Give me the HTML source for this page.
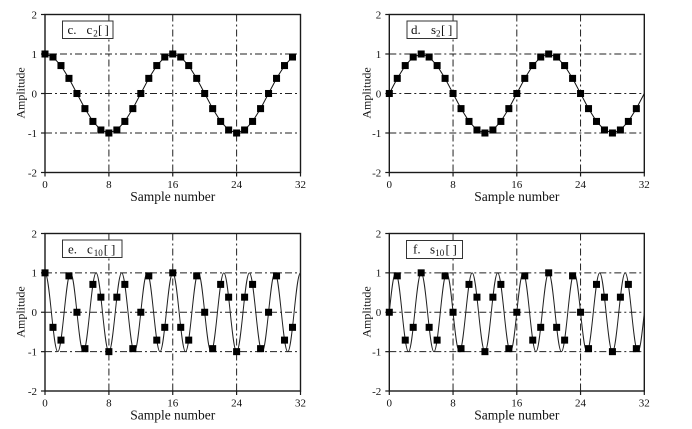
<!DOCTYPE html>
<html><head><meta charset="utf-8"><style>
html,body{margin:0;padding:0;background:#fff;}
svg{display:block;}
text{font-family:"Liberation Serif",serif;fill:#111;}
.tk{font-size:11px;}
.ax{font-size:13.5px;}
.am{font-size:12px;}
.bx{font-size:13px;}
.sb{font-size:9px;}
.g{stroke:#222;stroke-width:1;stroke-dasharray:7,3,2,3;fill:none;}
.fr{fill:none;stroke:#1a1a1a;stroke-width:1.4;}
.t{stroke:#1a1a1a;stroke-width:1.2;}
.ln{fill:none;stroke:#111;stroke-width:1;vector-effect:non-scaling-stroke;}
.cv{fill:none;stroke:#222;stroke-width:1;vector-effect:non-scaling-stroke;}
.lb{fill:#fff;stroke:#333;stroke-width:1;}
</style></head><body>
<svg width="692" height="429" viewBox="0 0 692 429" xmlns="http://www.w3.org/2000/svg">
<defs><rect id="m" x="-0.44" y="-0.089" width="0.88" height="0.178" fill="#000"/></defs>

<!-- ============ TOP LEFT ============ -->
<g>
<line class="g" x1="45" y1="54" x2="300.5" y2="54"/>
<line class="g" x1="45" y1="93.5" x2="300.5" y2="93.5"/>
<line class="g" x1="45" y1="133" x2="300.5" y2="133"/>
<line class="g" x1="108.9" y1="14.5" x2="108.9" y2="172.5"/>
<line class="g" x1="172.75" y1="14.5" x2="172.75" y2="172.5"/>
<line class="g" x1="236.6" y1="14.5" x2="236.6" y2="172.5"/>
<rect class="fr" x="45" y="14.5" width="255.5" height="158"/>
<line class="t" x1="41" y1="14.5" x2="45" y2="14.5"/><line class="t" x1="41" y1="54" x2="45" y2="54"/><line class="t" x1="41" y1="93.5" x2="45" y2="93.5"/><line class="t" x1="41" y1="133" x2="45" y2="133"/><line class="t" x1="41" y1="172.5" x2="45" y2="172.5"/>
<line class="t" x1="45" y1="172.5" x2="45" y2="176.5"/><line class="t" x1="108.9" y1="172.5" x2="108.9" y2="176.5"/><line class="t" x1="172.75" y1="172.5" x2="172.75" y2="176.5"/><line class="t" x1="236.6" y1="172.5" x2="236.6" y2="176.5"/><line class="t" x1="300.5" y1="172.5" x2="300.5" y2="176.5"/>
<text class="tk" x="37" y="18.3" text-anchor="end">2</text>
<text class="tk" x="37" y="57.8" text-anchor="end">1</text>
<text class="tk" x="37" y="97.3" text-anchor="end">0</text>
<text class="tk" x="37" y="136.8" text-anchor="end">-1</text>
<text class="tk" x="37" y="176.3" text-anchor="end">-2</text>
<text class="tk" x="45" y="188" text-anchor="middle">0</text>
<text class="tk" x="108.9" y="188" text-anchor="middle">8</text>
<text class="tk" x="172.75" y="188" text-anchor="middle">16</text>
<text class="tk" x="236.6" y="188" text-anchor="middle">24</text>
<text class="tk" x="300.5" y="188" text-anchor="middle">32</text>
<text class="ax" x="172.75" y="201" text-anchor="middle">Sample number</text>
<text class="am" transform="translate(24.5,93) rotate(-90)" text-anchor="middle">Amplitude</text>
<g transform="translate(45,93.5) scale(7.984,-39.5)">
<polyline class="ln" points="0,1 1,.9239 2,.7071 3,.3827 4,0 5,-.3827 6,-.7071 7,-.9239 8,-1 9,-.9239 10,-.7071 11,-.3827 12,0 13,.3827 14,.7071 15,.9239 16,1 17,.9239 18,.7071 19,.3827 20,0 21,-.3827 22,-.7071 23,-.9239 24,-1 25,-.9239 26,-.7071 27,-.3827 28,0 29,.3827 30,.7071 31,.9239"/>
<use href="#m" x="0" y="1"/><use href="#m" x="1" y=".9239"/><use href="#m" x="2" y=".7071"/><use href="#m" x="3" y=".3827"/><use href="#m" x="4" y="0"/><use href="#m" x="5" y="-.3827"/><use href="#m" x="6" y="-.7071"/><use href="#m" x="7" y="-.9239"/><use href="#m" x="8" y="-1"/><use href="#m" x="9" y="-.9239"/><use href="#m" x="10" y="-.7071"/><use href="#m" x="11" y="-.3827"/><use href="#m" x="12" y="0"/><use href="#m" x="13" y=".3827"/><use href="#m" x="14" y=".7071"/><use href="#m" x="15" y=".9239"/>
<use href="#m" x="16" y="1"/><use href="#m" x="17" y=".9239"/><use href="#m" x="18" y=".7071"/><use href="#m" x="19" y=".3827"/><use href="#m" x="20" y="0"/><use href="#m" x="21" y="-.3827"/><use href="#m" x="22" y="-.7071"/><use href="#m" x="23" y="-.9239"/><use href="#m" x="24" y="-1"/><use href="#m" x="25" y="-.9239"/><use href="#m" x="26" y="-.7071"/><use href="#m" x="27" y="-.3827"/><use href="#m" x="28" y="0"/><use href="#m" x="29" y=".3827"/><use href="#m" x="30" y=".7071"/><use href="#m" x="31" y=".9239"/>
</g>
<rect class="lb" x="62.5" y="21" width="50.5" height="17.5"/>
<text class="bx" y="34"><tspan x="67.5">c.</tspan><tspan x="86.5">c</tspan><tspan class="sb" x="93.2" y="36.5">2</tspan><tspan x="98" y="34">[</tspan><tspan x="104.5">]</tspan></text>
</g>

<!-- ============ TOP RIGHT ============ -->
<g>
<line class="g" x1="389.3" y1="54" x2="644.3" y2="54"/>
<line class="g" x1="389.3" y1="93.5" x2="644.3" y2="93.5"/>
<line class="g" x1="389.3" y1="133" x2="644.3" y2="133"/>
<line class="g" x1="453.05" y1="14.5" x2="453.05" y2="172.5"/>
<line class="g" x1="516.8" y1="14.5" x2="516.8" y2="172.5"/>
<line class="g" x1="580.55" y1="14.5" x2="580.55" y2="172.5"/>
<rect class="fr" x="389.3" y="14.5" width="255" height="158"/>
<line class="t" x1="385.3" y1="14.5" x2="389.3" y2="14.5"/><line class="t" x1="385.3" y1="54" x2="389.3" y2="54"/><line class="t" x1="385.3" y1="93.5" x2="389.3" y2="93.5"/><line class="t" x1="385.3" y1="133" x2="389.3" y2="133"/><line class="t" x1="385.3" y1="172.5" x2="389.3" y2="172.5"/>
<line class="t" x1="389.3" y1="172.5" x2="389.3" y2="176.5"/><line class="t" x1="453.05" y1="172.5" x2="453.05" y2="176.5"/><line class="t" x1="516.8" y1="172.5" x2="516.8" y2="176.5"/><line class="t" x1="580.55" y1="172.5" x2="580.55" y2="176.5"/><line class="t" x1="644.3" y1="172.5" x2="644.3" y2="176.5"/>
<text class="tk" x="381.3" y="18.3" text-anchor="end">2</text>
<text class="tk" x="381.3" y="57.8" text-anchor="end">1</text>
<text class="tk" x="381.3" y="97.3" text-anchor="end">0</text>
<text class="tk" x="381.3" y="136.8" text-anchor="end">-1</text>
<text class="tk" x="381.3" y="176.3" text-anchor="end">-2</text>
<text class="tk" x="389.3" y="188" text-anchor="middle">0</text>
<text class="tk" x="453.05" y="188" text-anchor="middle">8</text>
<text class="tk" x="516.8" y="188" text-anchor="middle">16</text>
<text class="tk" x="580.55" y="188" text-anchor="middle">24</text>
<text class="tk" x="644.3" y="188" text-anchor="middle">32</text>
<text class="ax" x="516.8" y="201" text-anchor="middle">Sample number</text>
<text class="am" transform="translate(370.5,93) rotate(-90)" text-anchor="middle">Amplitude</text>
<g transform="translate(389.3,93.5) scale(7.969,-39.5)">
<polyline class="ln" points="0,0 1,.3827 2,.7071 3,.9239 4,1 5,.9239 6,.7071 7,.3827 8,0 9,-.3827 10,-.7071 11,-.9239 12,-1 13,-.9239 14,-.7071 15,-.3827 16,0 17,.3827 18,.7071 19,.9239 20,1 21,.9239 22,.7071 23,.3827 24,0 25,-.3827 26,-.7071 27,-.9239 28,-1 29,-.9239 30,-.7071 31,-.3827 32,0"/>
<use href="#m" x="0" y="0"/><use href="#m" x="1" y=".3827"/><use href="#m" x="2" y=".7071"/><use href="#m" x="3" y=".9239"/><use href="#m" x="4" y="1"/><use href="#m" x="5" y=".9239"/><use href="#m" x="6" y=".7071"/><use href="#m" x="7" y=".3827"/><use href="#m" x="8" y="0"/><use href="#m" x="9" y="-.3827"/><use href="#m" x="10" y="-.7071"/><use href="#m" x="11" y="-.9239"/><use href="#m" x="12" y="-1"/><use href="#m" x="13" y="-.9239"/><use href="#m" x="14" y="-.7071"/><use href="#m" x="15" y="-.3827"/>
<use href="#m" x="16" y="0"/><use href="#m" x="17" y=".3827"/><use href="#m" x="18" y=".7071"/><use href="#m" x="19" y=".9239"/><use href="#m" x="20" y="1"/><use href="#m" x="21" y=".9239"/><use href="#m" x="22" y=".7071"/><use href="#m" x="23" y=".3827"/><use href="#m" x="24" y="0"/><use href="#m" x="25" y="-.3827"/><use href="#m" x="26" y="-.7071"/><use href="#m" x="27" y="-.9239"/><use href="#m" x="28" y="-1"/><use href="#m" x="29" y="-.9239"/><use href="#m" x="30" y="-.7071"/><use href="#m" x="31" y="-.3827"/>
</g>
<rect class="lb" x="407" y="21" width="50" height="17.5"/>
<text class="bx" y="34"><tspan x="411">d.</tspan><tspan x="431">s</tspan><tspan class="sb" x="436" y="36.5">2</tspan><tspan x="441" y="34">[</tspan><tspan x="448">]</tspan></text>
</g>

<!-- ============ BOTTOM LEFT ============ -->
<g>
<line class="g" x1="45" y1="272.85" x2="300.5" y2="272.85"/>
<line class="g" x1="45" y1="312.25" x2="300.5" y2="312.25"/>
<line class="g" x1="45" y1="351.65" x2="300.5" y2="351.65"/>
<line class="g" x1="108.9" y1="233.5" x2="108.9" y2="391"/>
<line class="g" x1="172.75" y1="233.5" x2="172.75" y2="391"/>
<line class="g" x1="236.6" y1="233.5" x2="236.6" y2="391"/>
<rect class="fr" x="45" y="233.5" width="255.5" height="157.5"/>
<line class="t" x1="41" y1="233.5" x2="45" y2="233.5"/><line class="t" x1="41" y1="272.85" x2="45" y2="272.85"/><line class="t" x1="41" y1="312.25" x2="45" y2="312.25"/><line class="t" x1="41" y1="351.65" x2="45" y2="351.65"/><line class="t" x1="41" y1="391" x2="45" y2="391"/>
<line class="t" x1="45" y1="391" x2="45" y2="395"/><line class="t" x1="108.9" y1="391" x2="108.9" y2="395"/><line class="t" x1="172.75" y1="391" x2="172.75" y2="395"/><line class="t" x1="236.6" y1="391" x2="236.6" y2="395"/><line class="t" x1="300.5" y1="391" x2="300.5" y2="395"/>
<text class="tk" x="37" y="237.3" text-anchor="end">2</text>
<text class="tk" x="37" y="276.65" text-anchor="end">1</text>
<text class="tk" x="37" y="316.05" text-anchor="end">0</text>
<text class="tk" x="37" y="355.45" text-anchor="end">-1</text>
<text class="tk" x="37" y="394.8" text-anchor="end">-2</text>
<text class="tk" x="45" y="406.5" text-anchor="middle">0</text>
<text class="tk" x="108.9" y="406.5" text-anchor="middle">8</text>
<text class="tk" x="172.75" y="406.5" text-anchor="middle">16</text>
<text class="tk" x="236.6" y="406.5" text-anchor="middle">24</text>
<text class="tk" x="300.5" y="406.5" text-anchor="middle">32</text>
<text class="ax" x="172.75" y="419.5" text-anchor="middle">Sample number</text>
<text class="am" transform="translate(24.5,312) rotate(-90)" text-anchor="middle">Amplitude</text>
<g transform="translate(45,312.25) scale(7.984,-39.4)">
<path class="cv" d="M0 1
c.2895 0 .5391 -.4877 .8 -1 c.2609 -.5123 .5105 -1 .8 -1 c.2895 0 .5391 .4877 .8 1 c.2609 .5123 .5105 1 .8 1
c.2895 0 .5391 -.4877 .8 -1 c.2609 -.5123 .5105 -1 .8 -1 c.2895 0 .5391 .4877 .8 1 c.2609 .5123 .5105 1 .8 1
c.2895 0 .5391 -.4877 .8 -1 c.2609 -.5123 .5105 -1 .8 -1 c.2895 0 .5391 .4877 .8 1 c.2609 .5123 .5105 1 .8 1
c.2895 0 .5391 -.4877 .8 -1 c.2609 -.5123 .5105 -1 .8 -1 c.2895 0 .5391 .4877 .8 1 c.2609 .5123 .5105 1 .8 1
c.2895 0 .5391 -.4877 .8 -1 c.2609 -.5123 .5105 -1 .8 -1 c.2895 0 .5391 .4877 .8 1 c.2609 .5123 .5105 1 .8 1
c.2895 0 .5391 -.4877 .8 -1 c.2609 -.5123 .5105 -1 .8 -1 c.2895 0 .5391 .4877 .8 1 c.2609 .5123 .5105 1 .8 1
c.2895 0 .5391 -.4877 .8 -1 c.2609 -.5123 .5105 -1 .8 -1 c.2895 0 .5391 .4877 .8 1 c.2609 .5123 .5105 1 .8 1
c.2895 0 .5391 -.4877 .8 -1 c.2609 -.5123 .5105 -1 .8 -1 c.2895 0 .5391 .4877 .8 1 c.2609 .5123 .5105 1 .8 1
c.2895 0 .5391 -.4877 .8 -1 c.2609 -.5123 .5105 -1 .8 -1 c.2895 0 .5391 .4877 .8 1 c.2609 .5123 .5105 1 .8 1
c.2895 0 .5391 -.4877 .8 -1 c.2609 -.5123 .5105 -1 .8 -1 c.2895 0 .5391 .4877 .8 1 c.2609 .5123 .5105 1 .8 1"/>
<use href="#m" x="0" y="1"/><use href="#m" x="1" y="-.3827"/><use href="#m" x="2" y="-.7071"/><use href="#m" x="3" y=".9239"/><use href="#m" x="4" y="0"/><use href="#m" x="5" y="-.9239"/><use href="#m" x="6" y=".7071"/><use href="#m" x="7" y=".3827"/><use href="#m" x="8" y="-1"/><use href="#m" x="9" y=".3827"/><use href="#m" x="10" y=".7071"/><use href="#m" x="11" y="-.9239"/><use href="#m" x="12" y="0"/><use href="#m" x="13" y=".9239"/><use href="#m" x="14" y="-.7071"/><use href="#m" x="15" y="-.3827"/>
<use href="#m" x="16" y="1"/><use href="#m" x="17" y="-.3827"/><use href="#m" x="18" y="-.7071"/><use href="#m" x="19" y=".9239"/><use href="#m" x="20" y="0"/><use href="#m" x="21" y="-.9239"/><use href="#m" x="22" y=".7071"/><use href="#m" x="23" y=".3827"/><use href="#m" x="24" y="-1"/><use href="#m" x="25" y=".3827"/><use href="#m" x="26" y=".7071"/><use href="#m" x="27" y="-.9239"/><use href="#m" x="28" y="0"/><use href="#m" x="29" y=".9239"/><use href="#m" x="30" y="-.7071"/><use href="#m" x="31" y="-.3827"/>
</g>
<rect class="lb" x="62.5" y="240" width="59.5" height="17.5"/>
<text class="bx" y="253.3"><tspan x="68">e.</tspan><tspan x="87">c</tspan><tspan class="sb" x="93.8" y="255.8">10</tspan><tspan x="103.8" y="253.3">[</tspan><tspan x="111">]</tspan></text>
</g>

<!-- ============ BOTTOM RIGHT ============ -->
<g>
<line class="g" x1="389.3" y1="272.85" x2="644.3" y2="272.85"/>
<line class="g" x1="389.3" y1="312.25" x2="644.3" y2="312.25"/>
<line class="g" x1="389.3" y1="351.65" x2="644.3" y2="351.65"/>
<line class="g" x1="453.05" y1="233.5" x2="453.05" y2="391"/>
<line class="g" x1="516.8" y1="233.5" x2="516.8" y2="391"/>
<line class="g" x1="580.55" y1="233.5" x2="580.55" y2="391"/>
<rect class="fr" x="389.3" y="233.5" width="255" height="157.5"/>
<line class="t" x1="385.3" y1="233.5" x2="389.3" y2="233.5"/><line class="t" x1="385.3" y1="272.85" x2="389.3" y2="272.85"/><line class="t" x1="385.3" y1="312.25" x2="389.3" y2="312.25"/><line class="t" x1="385.3" y1="351.65" x2="389.3" y2="351.65"/><line class="t" x1="385.3" y1="391" x2="389.3" y2="391"/>
<line class="t" x1="389.3" y1="391" x2="389.3" y2="395"/><line class="t" x1="453.05" y1="391" x2="453.05" y2="395"/><line class="t" x1="516.8" y1="391" x2="516.8" y2="395"/><line class="t" x1="580.55" y1="391" x2="580.55" y2="395"/><line class="t" x1="644.3" y1="391" x2="644.3" y2="395"/>
<text class="tk" x="381.3" y="237.3" text-anchor="end">2</text>
<text class="tk" x="381.3" y="276.65" text-anchor="end">1</text>
<text class="tk" x="381.3" y="316.05" text-anchor="end">0</text>
<text class="tk" x="381.3" y="355.45" text-anchor="end">-1</text>
<text class="tk" x="381.3" y="394.8" text-anchor="end">-2</text>
<text class="tk" x="389.3" y="406.5" text-anchor="middle">0</text>
<text class="tk" x="453.05" y="406.5" text-anchor="middle">8</text>
<text class="tk" x="516.8" y="406.5" text-anchor="middle">16</text>
<text class="tk" x="580.55" y="406.5" text-anchor="middle">24</text>
<text class="tk" x="644.3" y="406.5" text-anchor="middle">32</text>
<text class="ax" x="516.8" y="419.5" text-anchor="middle">Sample number</text>
<text class="am" transform="translate(370.5,312) rotate(-90)" text-anchor="middle">Amplitude</text>
<g transform="translate(389.3,312.25) scale(7.969,-39.4)">
<path class="cv" d="M0 0
c.2609 .5123 .5105 1 .8 1 c.2895 0 .5391 -.4877 .8 -1 c.2609 -.5123 .5105 -1 .8 -1 c.2895 0 .5391 .4877 .8 1
c.2609 .5123 .5105 1 .8 1 c.2895 0 .5391 -.4877 .8 -1 c.2609 -.5123 .5105 -1 .8 -1 c.2895 0 .5391 .4877 .8 1
c.2609 .5123 .5105 1 .8 1 c.2895 0 .5391 -.4877 .8 -1 c.2609 -.5123 .5105 -1 .8 -1 c.2895 0 .5391 .4877 .8 1
c.2609 .5123 .5105 1 .8 1 c.2895 0 .5391 -.4877 .8 -1 c.2609 -.5123 .5105 -1 .8 -1 c.2895 0 .5391 .4877 .8 1
c.2609 .5123 .5105 1 .8 1 c.2895 0 .5391 -.4877 .8 -1 c.2609 -.5123 .5105 -1 .8 -1 c.2895 0 .5391 .4877 .8 1
c.2609 .5123 .5105 1 .8 1 c.2895 0 .5391 -.4877 .8 -1 c.2609 -.5123 .5105 -1 .8 -1 c.2895 0 .5391 .4877 .8 1
c.2609 .5123 .5105 1 .8 1 c.2895 0 .5391 -.4877 .8 -1 c.2609 -.5123 .5105 -1 .8 -1 c.2895 0 .5391 .4877 .8 1
c.2609 .5123 .5105 1 .8 1 c.2895 0 .5391 -.4877 .8 -1 c.2609 -.5123 .5105 -1 .8 -1 c.2895 0 .5391 .4877 .8 1
c.2609 .5123 .5105 1 .8 1 c.2895 0 .5391 -.4877 .8 -1 c.2609 -.5123 .5105 -1 .8 -1 c.2895 0 .5391 .4877 .8 1
c.2609 .5123 .5105 1 .8 1 c.2895 0 .5391 -.4877 .8 -1 c.2609 -.5123 .5105 -1 .8 -1 c.2895 0 .5391 .4877 .8 1"/>
<use href="#m" x="0" y="0"/><use href="#m" x="1" y=".9239"/><use href="#m" x="2" y="-.7071"/><use href="#m" x="3" y="-.3827"/><use href="#m" x="4" y="1"/><use href="#m" x="5" y="-.3827"/><use href="#m" x="6" y="-.7071"/><use href="#m" x="7" y=".9239"/><use href="#m" x="8" y="0"/><use href="#m" x="9" y="-.9239"/><use href="#m" x="10" y=".7071"/><use href="#m" x="11" y=".3827"/><use href="#m" x="12" y="-1"/><use href="#m" x="13" y=".3827"/><use href="#m" x="14" y=".7071"/><use href="#m" x="15" y="-.9239"/>
<use href="#m" x="16" y="0"/><use href="#m" x="17" y=".9239"/><use href="#m" x="18" y="-.7071"/><use href="#m" x="19" y="-.3827"/><use href="#m" x="20" y="1"/><use href="#m" x="21" y="-.3827"/><use href="#m" x="22" y="-.7071"/><use href="#m" x="23" y=".9239"/><use href="#m" x="24" y="0"/><use href="#m" x="25" y="-.9239"/><use href="#m" x="26" y=".7071"/><use href="#m" x="27" y=".3827"/><use href="#m" x="28" y="-1"/><use href="#m" x="29" y=".3827"/><use href="#m" x="30" y=".7071"/><use href="#m" x="31" y="-.9239"/>
</g>
<rect class="lb" x="406.5" y="240.5" width="56" height="18"/>
<text class="bx" y="253.5"><tspan x="413">f.</tspan><tspan x="430">s</tspan><tspan class="sb" x="435.3" y="256">10</tspan><tspan x="445.5" y="253.5">[</tspan><tspan x="452.5">]</tspan></text>
</g>
</svg>
</body></html>
